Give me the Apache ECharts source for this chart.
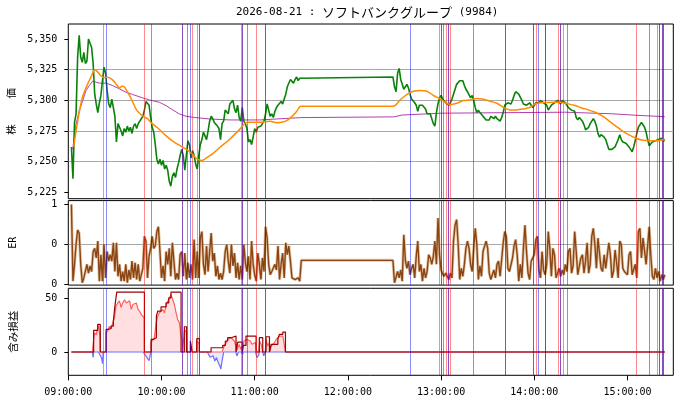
<!DOCTYPE html>
<html><head><meta charset="utf-8">
<script src="https://cdn.jsdelivr.net/npm/echarts@6.0.0/dist/echarts.min.js"></script>
<style>html,body{margin:0;padding:0;background:#fff}#c{width:680px;height:400px}</style>
</head><body><div id="c"></div>
<script>
// ---- time: minutes after 09:00 ----
const AM_START = 2;    // first morning sample (1-minute steps)
const PM_START = 209;  // first afternoon sample (1-minute steps)

const priceAM = [
5262,5236,5282,5289,5335,5353,5335,5331,5339,5330,
5332,5350,5351,5343,5330,5305,5297,5290,5298,5304,
5316,5327,5322,5308,5297,5294,5301,5294,5287,5266,
5281,5282,5275,5271,5277,5274,5279,5275,5278,5273,
5279,5281,5277,5281,5282,5285,5287,5292,5299,5300,
5296,5286,5278,5274,5264,5252,5248,5252,5247,5251,
5244,5247,5243,5234,5230,5238,5241,5237,5244,5249,
5255,5260,5255,5243,5255,5267,5264,5253,5259,5255,
5248,5244,5255,5264,5268,5274,5271,5268,5275,5283,
5287,5285,5282,5281,5279,5277,5268,5281,5283,5292,
5291,5289,5297,5298,5300,5293,5290,5296,5286,5283,
5294,5283,5281,5277,5266,5268,5264,5270,5277,5274,
5278,5277,5279,5281,5283,5289,5297,5292,5287,5289,
5286,5291,5294,5296,5297,5299,5297,5301,5305,5311,
5312,5317,5316,5314,5317,5319,5316,5318,5318];
const pricePM = [
5319,5311,5307,5322,5326,5317,5313,5309,5309,5313,
5310,5305,5301,5300,5298,5296,5291,5296,5296,5296,
5296,5293,5289,5288,5289,5285,5281,5279,5290,5297,
5302,5304,5301,5301,5298,5299,5296,5298,5301,5302,
5309,5313,5312,5316,5317,5316,5312,5309,5307,5306,
5302,5304,5300,5294,5290,5292,5290,5289,5287,5286,
5284,5283,5284,5287,5288,5285,5287,5285,5286,5283,
5286,5290,5296,5297,5298,5297,5297,5300,5304,5307,
5307,5305,5304,5300,5297,5298,5296,5297,5298,5296,
5294,5296,5298,5298,5298,5300,5300,5298,5297,5296,
5292,5294,5296,5297,5298,5299,5300,5301,5297,5300,
5299,5298,5296,5294,5293,5292,5293,5291,5286,5284,
5286,5285,5283,5280,5276,5275,5278,5281,5282,5285,
5283,5279,5273,5270,5272,5272,5270,5268,5264,5260,
5259,5260,5259,5262,5265,5268,5272,5268,5266,5267,
5265,5264,5262,5260,5258,5262,5267,5273,5278,5279,
5282,5281,5278,5274,5268,5263,5264,5266,5267,5267,
5268,5268,5267,5269,5267,5267];

// moving average (orange) [minute, value]
const maPoints = [[3.5,5262],[5,5275],[7,5290],[9,5302],[12,5312],[15,5320],[17,5325],[19,5323],[21,5320],[23,5318.5],[26,5318.5],[29,5316],[31,5313],[33,5310],[34.5,5311.5],[36,5311],[38,5307],[41,5300],[44,5292],[48,5287],[51,5285],[54,5281],[58,5277],[63,5271],[67,5267],[72,5263],[76,5260],[80,5256],[83,5252],[86,5251],[89,5253],[93,5256.5],[97.7,5261.7],[104.1,5268.5],[110.6,5276.7],[113.8,5281.3],[116,5282.1],[123.5,5282.1],[129.9,5282.9],[134.2,5281.8],[137.4,5282.1],[140.6,5283.5],[143.9,5286.7],[147.1,5291.1],[149.7,5295.2],[209.3,5295.2],[213.6,5300.3],[217.9,5304.7],[222.2,5307.4],[226.5,5308],[230.8,5307.4],[235.1,5303.9],[239.4,5301.2],[243.7,5297.6],[245.8,5296.5],[250.1,5297.6],[254.4,5299.8],[258.7,5300.3],[263,5301.4],[267.3,5300.9],[271.6,5299.2],[275.9,5297.6],[280.2,5294.3],[284.5,5292.2],[288.8,5292.2],[293.1,5293],[297.4,5294.3],[300.6,5297.1],[307,5298.2],[313.5,5298.4],[317.7,5298.2],[322,5297.1],[326.3,5295.7],[330.6,5293.8],[334.9,5292.2],[339.2,5290.3],[343.5,5287.5],[347.8,5283.5],[352.1,5279.4],[356.4,5275.3],[360.7,5272],[365,5269.3],[369.3,5267.7],[373.5,5267.1],[377.9,5267.1],[382.1,5267.7],[384.3,5268.2]];

// VWAP (purple) [minute, value]
const vwapPoints = [[2.8,5259.8],[5,5280.7],[7.1,5291.6],[9.3,5299.8],[11.4,5308],[13.5,5312],[15.7,5315.6],[20,5314],[24.3,5314],[28.6,5312],[32.9,5309.3],[37.2,5306.6],[41.5,5304.7],[47.9,5302],[52.2,5300.3],[58.6,5298.4],[62.9,5295.7],[67.2,5292.2],[71.5,5288.9],[75.8,5287],[80.1,5286.2],[84.4,5285.6],[90.8,5284.8],[104.2,5284],[123.5,5284],[134.2,5284.8],[149.7,5285.9],[209.5,5286.5],[215,5288],[240,5289.5],[290,5290],[320,5290.3],[350,5289],[370,5287.5],[384,5286.7]];

// efficiency ratio (1-minute steps)
const erAM = [
1.0,0.04,0.25,0.50,0.68,0.64,0.25,0.02,0.08,0.06,
0.25,0.14,0.23,0.16,0.41,0.45,0.33,0.54,0.04,0.37,
0.04,0.50,0.08,0.41,0.29,0.37,0.29,0.52,0.16,0.52,
0.10,0.25,0.04,0.16,0.04,0.25,0.02,0.18,0.06,0.29,
0.08,0.27,0.06,0.25,0.04,0.04,0.20,0.60,0.54,0.08,
0.35,0.45,0.60,0.45,0.48,0.66,0.72,0.41,0.08,0.23,
0.04,0.41,0.25,0.45,0.10,0.52,0.29,0.06,0.14,0.06,
0.37,0.41,0.10,0.39,0.06,0.27,0.08,0.25,0.06,0.56,
0.08,0.41,0.08,0.58,0.66,0.25,0.12,0.48,0.16,0.41,
0.64,0.29,0.39,0.10,0.23,0.06,0.14,0.06,0.16,0.41,
0.50,0.29,0.14,0.50,0.23,0.39,0.08,0.27,0.06,0.23,
0.06,0.50,0.27,0.16,0.35,0.06,0.54,0.25,0.12,0.04,
0.39,0.25,0.06,0.33,0.16,0.72,0.58,0.25,0.12,0.16,
0.14,0.25,0.18,0.48,0.06,0.25,0.39,0.08,0.52,0.37,
0.48,0.29,0.08,0.10,0.06,0.04,0.08,0.04,0.30];
const erPM = [
0.30,0.02,0.04,0.16,0.08,0.18,0.04,0.62,0.30,0.20,
0.29,0.12,0.20,0.25,0.08,0.35,0.54,0.16,0.25,0.04,
0.20,0.08,0.16,0.37,0.33,0.25,0.35,0.54,0.25,0.83,
0.37,0.18,0.13,0.10,0.14,0.16,0.06,0.14,0.08,0.54,
0.74,0.81,0.50,0.06,0.20,0.10,0.25,0.45,0.54,0.45,
0.25,0.16,0.45,0.70,0.50,0.06,0.23,0.10,0.41,0.43,
0.54,0.45,0.14,0.06,0.12,0.18,0.08,0.25,0.29,0.10,
0.31,0.52,0.66,0.60,0.20,0.16,0.14,0.33,0.48,0.56,
0.37,0.04,0.25,0.08,0.45,0.74,0.41,0.14,0.06,0.29,
0.29,0.37,0.56,0.60,0.18,0.08,0.41,0.18,0.12,0.25,
0.66,0.45,0.10,0.45,0.37,0.08,0.14,0.20,0.10,0.18,
0.12,0.25,0.16,0.41,0.45,0.14,0.23,0.66,0.41,0.12,
0.12,0.33,0.37,0.14,0.29,0.52,0.14,0.25,0.60,0.70,
0.50,0.20,0.58,0.58,0.20,0.16,0.37,0.20,0.18,0.52,
0.37,0.08,0.16,0.43,0.27,0.08,0.54,0.50,0.20,0.16,
0.16,0.12,0.37,0.41,0.12,0.10,0.25,0.08,0.66,0.70,
0.33,0.58,0.58,0.25,0.25,0.72,0.37,0.10,0.06,0.20,
0.08,0.16,0.04,0.12,0.06,0.12];

// unrealized profit [minute, value]
const pnlPoints = [[2,0],[15.5,0],[16,-5],[16.3,12],[17,18],[18,16],[18.5,20],[19.5,25],[20.3,15],[20.6,0],[21.5,-6],[22,-11],[22.5,0],[24.3,0],[24.4,18],[25.4,20],[26.4,24],[27.5,22],[28.6,27],[29.7,32],[30.7,43],[31.8,46],[32.9,48],[34,42],[35,46],[36.2,49],[37.3,46],[38.4,45],[39.5,48],[40.5,40],[41.6,44.5],[42.7,43],[43.8,46],[44.9,40],[46,38],[47,35],[48.1,33.6],[48.9,32],[49,0],[51,-6],[52,-8],[53.2,0],[53.3,9],[54.3,10.3],[55.4,13.4],[56.5,27],[57.6,33.6],[58.6,36.8],[59.7,38.3],[60.8,39.9],[61.9,36.8],[62.9,43],[64,47.7],[65.1,50.8],[66.1,53.9],[67.2,49.2],[68.3,44.5],[69.4,36.8],[70.4,30.5],[71.5,27.4],[72.6,14.9],[73.4,11.8],[73.5,0],[74.7,0],[74.8,21],[76.1,18],[76.2,0],[78.6,0],[78.7,8],[79.7,7],[79.8,0],[82.7,0],[82.8,10],[84.3,8],[84.4,0],[89.6,0],[90.2,-2],[91.3,-5],[92.2,-6.5],[93.2,-3.5],[94.3,-8.4],[95.4,-5.3],[96.5,-10],[97.5,-12.8],[98.2,-16],[99,-8.4],[99.8,-2],[100,0],[100.5,6],[101.6,8.7],[102.6,11.8],[103.7,12.5],[104.8,13.4],[105.9,11.8],[106.9,10.3],[107.9,5.6],[108,0],[108.5,-3.7],[109.2,-3],[109.5,0],[110,7],[111.1,2.5],[111.5,5],[112.2,-2],[112.7,0],[113,10.3],[114,8.7],[115.1,11.8],[116.1,13.4],[117.2,10.3],[118.3,7.2],[119.4,5.6],[120.5,9],[121,0],[121.5,-5.3],[122.5,-3],[123,0],[123.1,10.3],[124.2,7.2],[125.2,0],[125.8,-3.7],[126.8,0],[127.3,11.8],[128.4,5.6],[129.5,9],[129.6,0],[130.6,5.6],[131.6,7.2],[132.7,8.7],[133.8,11.8],[134.9,13.4],[135.9,14.9],[137,16.5],[138.1,14.9],[139.2,15.6],[139.8,0],[384,0]];

// running max profit (step line) [minute, value held until next point]
const maxPoints = [[2,0],[16.3,20.3],[18.9,25.9],[20.6,0],[24.3,21.2],[25.8,22],[27.5,24.3],[29,29],[30,43],[31.2,56.1],[49,0],[53.3,11.8],[54.8,13.4],[56.7,33.6],[57.6,38.3],[59.7,42.3],[62.9,46.1],[64.7,50.8],[66.1,56.1],[72.6,0],[74.7,23.7],[76.2,0],[78.6,10.3],[79.7,0],[82.7,12.5],[84.4,0],[91.9,4],[99.4,6.2],[101.1,10.3],[102.6,13.4],[104.8,14.9],[108,0],[109.1,9.3],[111.9,0],[112.7,6.2],[114.4,14.9],[120.9,0],[123,13.4],[125.2,0],[127.3,14.3],[129.5,0],[130.6,7.2],[134.9,12],[135.9,16.5],[138.1,18.7],[139.8,0],[384,0]];

// signal times (minutes after 09:00)
const redSignals  = [22.5,49.1,80.0,82.9,111.5,121.3,239.1,243.2,246.0,301.5,315.7,318.4,365.9,379.4];
const blueSignals = [24.5,53.5,76.8,78.7,115.4,220.4,241.5,260.8,302.7,307.2,307.2,321.0,374.3];
const bothSignals = [73.4,84.2,112.3,126.5,240.0,244.8,281.0,299.3,316.5,380.7,382.2,382.8];

// axis ticks
const xTicks = [0,60,120,180,240,300,360];
const priceTicks = [5225,5250,5275,5300,5325,5350];
const erTicks = [0,0.5,1];
const pnlTicks = [0,50];

const titleDate = '2026-08-21';
const titleName = 'ソフトバンクグループ';
const titleCode = '9984';

// ---------------------------------------------------------------
const toSeries = (start, arr) => arr.map((v, i) => [start + i, v]);
const priceData = toSeries(AM_START, priceAM).concat(toSeries(PM_START, pricePM));
const erData = toSeries(AM_START, erAM).concat(toSeries(PM_START, erPM));
const pnlGain = pnlPoints.map(p => [p[0], Math.max(p[1], 0)]);
const pnlLoss = pnlPoints.map(p => [p[0], Math.min(p[1], 0)]);

const MONO = 'DejaVu Sans Mono';
const CJK = 'Noto Sans CJK JP';

function roundHalfEven(v) {
  const f = Math.floor(v), d = v - f;
  if (Math.abs(d - 0.5) < 1e-9) return f % 2 === 0 ? f : f + 1;
  return Math.round(v);
}
function tickFmt(ticks) {
  return v => ticks.some(t => Math.abs(t - v) < 1e-6) ? roundHalfEven(v).toLocaleString('en-US') : '';
}
const hms = m => String(9 + Math.floor(m / 60)).padStart(2, '0') + ':' + String(m % 60).padStart(2, '0') + ':00';

const X_MAX = 389.5;
const grids = [
  {left: 68.3, right: 6.7, top: 24, height: 174.7},
  {left: 68.3, right: 6.7, top: 200.6, height: 84.5},
  {left: 68.3, right: 6.7, top: 288.3, height: 87}
].map(g => Object.assign(g, {show: true, borderColor: '#000', borderWidth: 1, backgroundColor: 'transparent', containLabel: false, outerBoundsMode: 'none'}));

const xAxes = [0, 1, 2].map(i => ({
  type: 'value', gridIndex: i, min: 0, max: X_MAX, interval: 60,
  axisLine: {show: false, onZero: false},
  splitLine: {show: false},
  axisTick: {show: i === 2, customValues: xTicks, length: 5, lineStyle: {color: '#000', width: 1}},
  axisLabel: {show: i === 2, customValues: xTicks, margin: 12, fontFamily: MONO, fontSize: 10, color: '#000',
    formatter: v => (xTicks.indexOf(v) >= 0 ? hms(v) : '')}
}));

function yAxis(i, min, max, step, ticks, name, nameFont, nameSize) {
  return {
    type: 'value', gridIndex: i, min, max, minInterval: step, maxInterval: step, scale: true,
    name, nameLocation: 'middle', nameRotate: 90, nameGap: 50,
    nameTextStyle: {fontFamily: nameFont, fontSize: nameSize, color: '#000'},
    axisLine: {show: false, onZero: false},
    axisTick: {show: true, customValues: ticks, length: 4, lineStyle: {color: '#000', width: 1}},
    axisLabel: {customValues: ticks, margin: 11, fontFamily: MONO, fontSize: 10, color: '#000',
      formatter: tickFmt(ticks)},
    splitLine: {show: true, showMinLine: false, showMaxLine: false, lineStyle: {color: '#a8a8a8', width: 1}}
  };
}
const yAxes = [
  yAxis(0, 5219.8, 5362.2, 25, priceTicks, '株　　  価', CJK, 10.5),
  yAxis(1, -0.01, 1.0475, 0.5, erTicks, 'ER', MONO, 10),
  yAxis(2, -21.86, 59.76, 50, pnlTicks, '含み損益', CJK, 10.5)
];

const sigData = [];
redSignals.concat(bothSignals).forEach(t => sigData.push({xAxis: t, lineStyle: {color: 'rgba(255,0,0,0.45)'}}));
blueSignals.concat(bothSignals).forEach(t => sigData.push({xAxis: t, lineStyle: {color: 'rgba(0,0,255,0.45)'}}));
const sigSeries = i => ({
  type: 'line', xAxisIndex: i, yAxisIndex: i, data: [], silent: true, z: 6,
  markLine: {silent: true, symbol: ['none', 'none'], label: {show: false}, animation: false,
    lineStyle: {type: 'solid', width: 1}, emphasis: {disabled: true}, data: sigData}
});
const lineBase = (i, data, color, width, extra) => Object.assign({
  type: 'line', xAxisIndex: i, yAxisIndex: i, data, symbol: 'none', showSymbol: false,
  silent: true, animation: false, lineStyle: {color, width}
}, extra || {});

const series = [
  lineBase(0, vwapPoints, '#b040b0', 1, {z: 3}),
  lineBase(0, priceData, '#0a820a', 1.6, {z: 4}),
  lineBase(0, maPoints, '#ff8c00', 1.5, {smooth: 0.3, z: 5}),
  sigSeries(0),
  lineBase(1, erData, '#dcb690', 3, {z: 3, lineStyle: {color: '#dcb690', width: 3, opacity: 0.8}}),
  lineBase(1, erData, '#8b4513', 1.4, {z: 4}),
  sigSeries(1),
  lineBase(2, pnlLoss, '#6f6fff', 1.2, {z: 3, areaStyle: {origin: 0, color: 'rgba(110,110,255,0.22)'}}),
  lineBase(2, pnlGain, '#ff5e5e', 1.2, {z: 3, areaStyle: {origin: 0, color: 'rgba(255,90,90,0.28)'}}),
  lineBase(2, maxPoints, '#a00000', 1.2, {z: 4, step: 'end'}),
  sigSeries(2)
];

const chart = echarts.init(document.getElementById('c'), null, {renderer: 'canvas'});
chart.setOption({
  animation: false,
  backgroundColor: '#fff',
  title: {
    text: '{a|' + titleDate + ' : }{b|' + titleName + '}{a| (' + titleCode + ')}',
    left: 236, top: 6, padding: 0,
    textStyle: {fontWeight: 'normal', rich: {
      a: {fontFamily: MONO, fontSize: 11, color: '#000', fontWeight: 'normal'},
      b: {fontFamily: CJK, fontSize: 13, color: '#000', fontWeight: 'normal'}
    }}
  },
  grid: grids,
  xAxis: xAxes,
  yAxis: yAxes,
  series
});
</script></body></html>
